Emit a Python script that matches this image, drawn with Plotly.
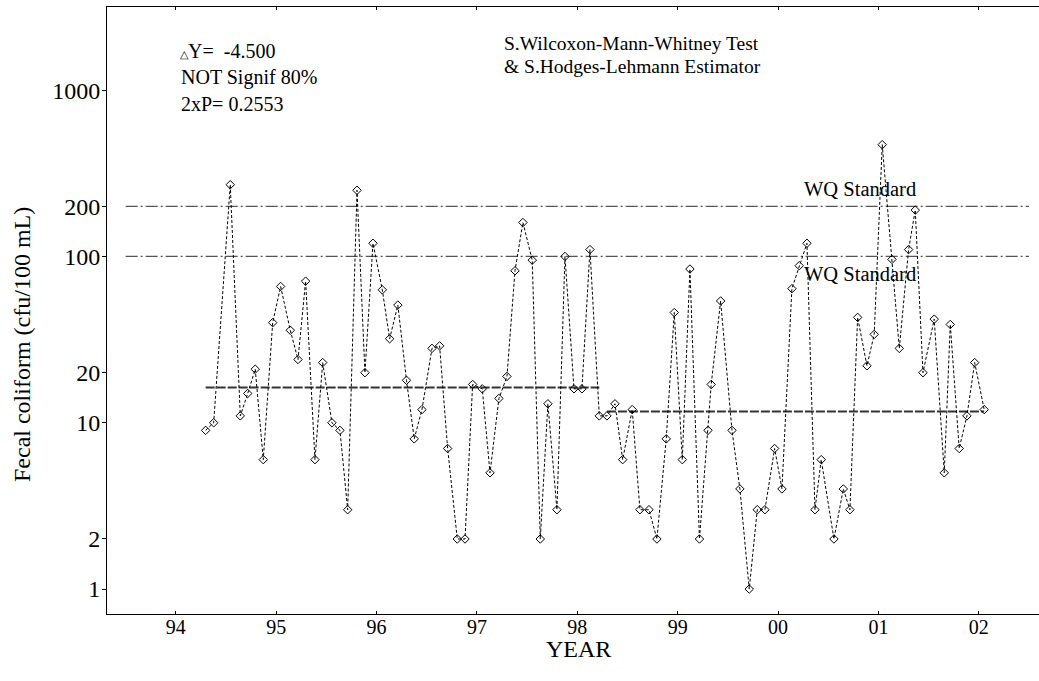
import plotly.graph_objects as go

# ---------------- data ----------------
years = [
    1994.797, 1994.877, 1995.042, 1995.142, 1995.216, 1995.291, 1995.371, 1995.465,
    1995.544, 1995.640, 1995.717, 1995.793, 1995.886, 1995.963, 1996.055, 1996.135,
    1996.212, 1996.305, 1996.384, 1996.464, 1996.557, 1996.630, 1996.712, 1996.798,
    1996.875, 1996.952, 1997.052, 1997.128, 1997.208, 1997.304, 1997.381, 1997.457,
    1997.553, 1997.630, 1997.719, 1997.799, 1997.879, 1997.958, 1998.051, 1998.131,
    1998.207, 1998.297, 1998.377, 1998.467, 1998.546, 1998.626, 1998.719,
    1998.795, 1998.875, 1998.952, 1999.047, 1999.124, 1999.214, 1999.293, 1999.386,
    1999.466, 1999.546, 1999.622, 1999.717, 1999.802, 1999.834, 1999.928, 2000.041,
    2000.120, 2000.213, 2000.293, 2000.369, 2000.466, 2000.539, 2000.638, 2000.711,
    2000.788, 2000.868, 2000.930, 2001.057, 2001.150, 2001.216, 2001.293, 2001.386,
    2001.458, 2001.538, 2001.635, 2001.708, 2001.801, 2001.867, 2001.944, 2002.056,
    2002.156, 2002.216, 2002.305, 2002.382, 2002.459, 2002.554,
]
fecal = [
    9, 10, 270, 11, 15, 21, 6, 40,
    66, 36, 24, 71, 6, 23, 10, 9,
    3, 250, 20, 120, 63, 32, 51, 18,
    8, 12, 28, 29, 7, 2, 2, 17,
    16, 5, 14, 19, 82, 160, 95, 2,
    13, 3, 100, 16, 16, 110, 11,
    11, 13, 6, 12, 3, 3, 2, 8,
    46, 6, 84, 2, 9, 17, 54, 9,
    4, 1, 3, 3, 7, 4, 64, 88,
    120, 3, 6, 2, 4, 3, 43, 22,
    34, 470, 96, 28, 110, 190, 20, 42,
    5, 39, 7, 11, 23, 12,
]
split_index = 47                 # first sample of the second period
period_medians = [16.3, 11.7]    # level of each period's estimator line
wq_standards = [200, 100]
wq_x = [1994.0, 2003.0]
year_bounds = list(range(1994, 2004))
year_mids = [y + 0.5 for y in range(1994, 2003)]
year_labels = ["94", "95", "96", "97", "98", "99", "00", "01", "02"]
y_major = [1, 2, 10, 20, 100, 200, 1000]
y_major_text = ["1", "2", "10", "20", "100", "200", "1000"]
y_minor = [3, 4, 5, 6, 7, 8, 9, 30, 40, 50, 60, 70, 80, 90,
           300, 400, 500, 600, 700, 800, 900]

# ---------------- layout geometry ----------------
W, H = 1039, 681
L, T, B, R = 107, 7, 67, 0
PW, PH = W - L - R, H - T - B
X_RANGE = [1993.814, 2003.100]
Y_RANGE = [-0.15, 3.5]
FONT = "Liberation Serif, Times New Roman, serif"


def px(xp):
    return (xp - L) / PW


def py(yp):
    return (H - B - yp) / PH


fig = go.Figure()

# water-quality standard lines
for s in wq_standards:
    fig.add_trace(go.Scatter(
        x=wq_x, y=[s, s], mode="lines",
        line=dict(color="#555555", width=1.3, dash="12px,3px,2px,3px"),
        hoverinfo="skip", showlegend=False))

# period estimator lines
periods = [years[:split_index], years[split_index:]]
for xs, m in zip(periods, period_medians):
    fig.add_trace(go.Scatter(
        x=[xs[0], xs[-1]], y=[m, m], mode="lines",
        line=dict(color="#333333", width=2, dash="9px,2px"),
        hoverinfo="skip", showlegend=False))

# data
fig.add_trace(go.Scatter(
    x=years, y=fecal, mode="lines+markers",
    line=dict(color="black", width=1, dash="3px,2px"),
    marker=dict(symbol="diamond-open", size=6.5, color="black",
                line=dict(color="black", width=1)),
    showlegend=False))

axis_common = dict(showgrid=False, zeroline=False, automargin=False)

fig.update_layout(
    width=W, height=H, autosize=False,
    margin=dict(l=L, r=R, t=T, b=B, pad=0),
    paper_bgcolor="white", plot_bgcolor="white",
    font=dict(family=FONT, color="black"),
    xaxis=dict(
        **axis_common, range=X_RANGE,
        tickmode="array", tickvals=year_mids, ticktext=year_labels,
        ticks="inside", ticklen=3, tickcolor="black", tickwidth=1,
        tickfont=dict(size=20, family=FONT), ticklabelstandoff=-5,
        showline=True, linecolor="black", linewidth=1, mirror="ticks",
    ),
    xaxis2=dict(
        **axis_common, range=X_RANGE, overlaying="x",
        tickmode="array", tickvals=year_bounds,
        ticks="inside", ticklen=7, tickcolor="black", tickwidth=1,
        showticklabels=False, showline=False, mirror="ticks",
    ),
    xaxis3=dict(
        **axis_common, range=X_RANGE, overlaying="x",
        tickmode="array", tickvals=year_bounds,
        ticks="outside", ticklen=4, tickcolor="black", tickwidth=1,
        showticklabels=False, showline=False, mirror="ticks",
    ),
    yaxis=dict(
        **axis_common, type="log", range=Y_RANGE,
        tickmode="array", tickvals=y_major, ticktext=y_major_text,
        ticks="outside", ticklen=4, tickcolor="black", tickwidth=1,
        tickfont=dict(size=24, family=FONT), ticklabelstandoff=-3,
        showline=True, linecolor="black", linewidth=1, mirror=False,
    ),
    yaxis2=dict(
        **axis_common, type="log", range=Y_RANGE, overlaying="y",
        tickmode="array", tickvals=y_major,
        ticks="inside", ticklen=7, tickcolor="black", tickwidth=1,
        showticklabels=False, showline=False,
    ),
    yaxis3=dict(
        **axis_common, type="log", range=Y_RANGE, overlaying="y",
        tickmode="array", tickvals=y_minor,
        ticks="inside", ticklen=4, tickcolor="black", tickwidth=1,
        showticklabels=False, showline=False,
    ),
)

NB = "\u00a0"
notes = [
    ("<span style='font-size:11px'>\u25b3</span>Y=" + NB * 2 + "-4.500", 179, 43.5, 20),
    ("NOT Signif 80%", 180, 70.0, 20),
    ("2xP= 0.2553", 180, 97.0, 20),
    ("S.Wilcoxon-Mann-Whitney Test", 503.3, 36.7, 19.5),
    ("&amp; S.Hodges-Lehmann Estimator", 503.3, 60.0, 19.5),
    ("WQ Standard", 803, 182.0, 20.5),
    ("WQ Standard", 803, 266.7, 20.5),
]
for text, xp, cap_top, size in notes:
    fig.add_annotation(
        text=text, xref="paper", yref="paper",
        x=px(xp - 1), y=py(cap_top - 1 - 0.24 * size),
        xanchor="left", yanchor="top", showarrow=False,
        font=dict(size=size, family=FONT, color="black"))

fig.add_annotation(
    text="YEAR", xref="paper", yref="paper",
    x=px(578), y=py(640.5 - 1 - 0.24 * 24),
    xanchor="center", yanchor="top", showarrow=False,
    font=dict(size=24, family=FONT, color="black"))

fig.add_annotation(
    text="Fecal coliform (cfu/100 mL)", xref="paper", yref="paper",
    x=px(22), y=py(345), textangle=-90,
    xanchor="center", yanchor="middle", showarrow=False,
    font=dict(size=24, family=FONT, color="black"))

fig.write_html(
    "out.html",
    config={"displayModeBar": False},
    post_script="document.body.style.margin='0';"
                "document.body.style.overflow='hidden';",
)
